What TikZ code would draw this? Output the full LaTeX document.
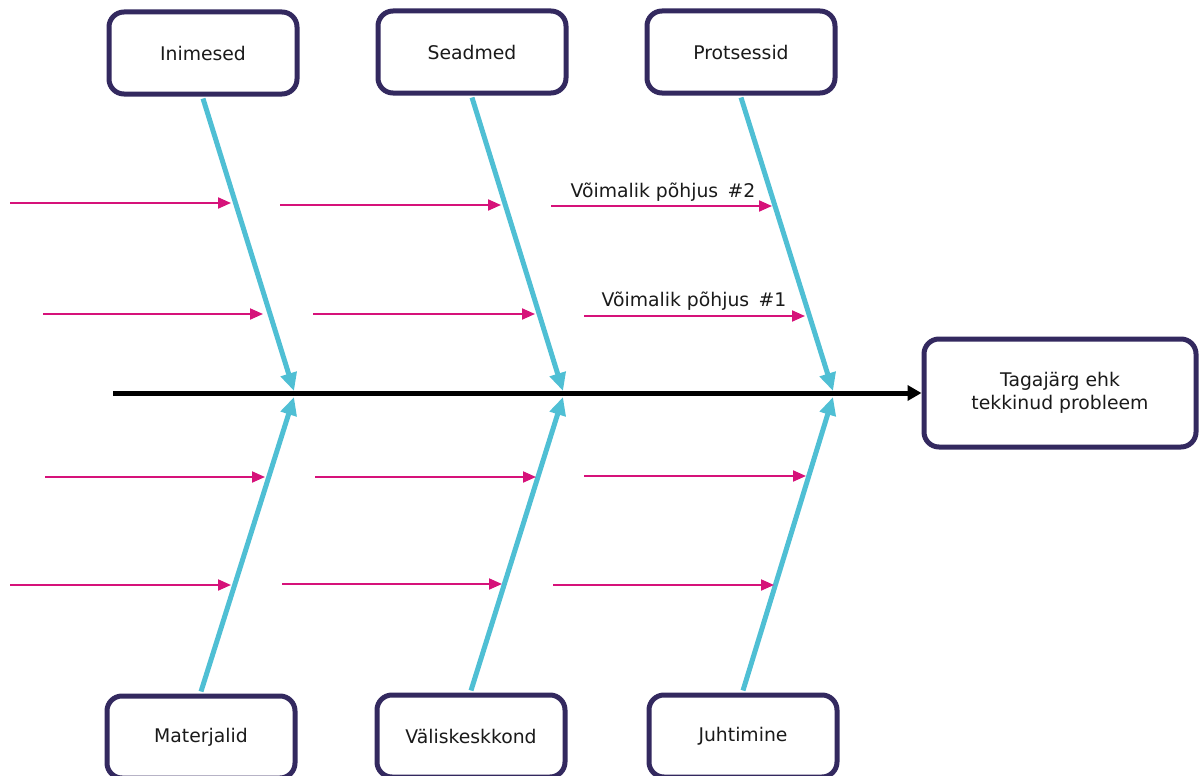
\documentclass[tikz,border=0pt]{standalone}
\usepackage{fontspec}
\setmainfont{DejaVu Sans}
\usetikzlibrary{arrows.meta}
\definecolor{boxline}{HTML}{33295F}
\definecolor{bone}{HTML}{4FBFD4}
\definecolor{cause}{HTML}{D6127A}
\definecolor{ink}{HTML}{1A1A1A}
\tikzset{
  category/.style={draw=boxline, line width=5pt, rounded corners=15pt, fill=white,
    minimum width=188pt, minimum height=82pt, inner sep=0pt, text=ink,
    font=\fontsize{18.8}{23}\selectfont},
  effect/.style={category, minimum width=272pt, minimum height=108pt, align=center},
  bonearrow/.style={draw=bone, line width=5pt, -{Triangle[length=18pt,width=16pt]}},
  spinearrow/.style={draw=black, line width=5pt, -{Triangle[length=14pt,width=15pt]}},
  causearrow/.style={draw=cause, line width=2pt, -{Triangle[length=13pt,width=11pt]}},
  causelabel/.style={text=ink, font=\fontsize{18.8}{23}\selectfont, inner sep=0pt}
}
\begin{document}
\begin{tikzpicture}[x=1pt, y=-1pt]
\useasboundingbox (0,0) rectangle (1199,776);
\clip (0,0) rectangle (1199,776);

% category boxes
\node[category] (ppl)  at (203,53)  {Inimesed};
\node[category] (eqp)  at (472,52)  {Seadmed};
\node[category] (prc)  at (741,52)  {Protsessid};
\node[category] (mat)  at (201,737) {Materjalid};
\node[category] (env)  at (471,736) {Väliskeskkond};
\node[category] (mgt)  at (743,736) {Juhtimine};
\node[effect]   (eff)  at (1060,393) {Tagajärg ehk\\tekkinud probleem};

% spine
\coordinate (tail) at (113,393);
\draw[spinearrow] (tail) -- (eff.west);

% bones meeting the spine
\coordinate (j1t) at (294,391);
\coordinate (j2t) at (563,391);
\coordinate (j3t) at (833,391);
\coordinate (j1b) at (294,397);
\coordinate (j2b) at (563,397);
\coordinate (j3b) at (833,397);
\draw[bonearrow] (ppl.south) ++(0,2) coordinate (s1t) -- (j1t);
\draw[bonearrow] (eqp.south) ++(0,2) coordinate (s2t) -- (j2t);
\draw[bonearrow] (prc.south) ++(0,2) coordinate (s3t) -- (j3t);
\draw[bonearrow] (mat.north) ++(0,-2) coordinate (s1b) -- (j1b);
\draw[bonearrow] (env.north) ++(0,-2) coordinate (s2b) -- (j2b);
\draw[bonearrow] (mgt.north) ++(0,-2) coordinate (s3b) -- (j3b);

% causes, row by row
\coordinate (a1) at (10,203);  \coordinate (b1) at (231,203);
\coordinate (a2) at (280,205); \coordinate (b2) at (501,205);
\coordinate (a3) at (551,206); \coordinate (b3) at (772,206);
\coordinate (a4) at (43,314);  \coordinate (b4) at (263,314);
\coordinate (a5) at (313,314); \coordinate (b5) at (535,314);
\coordinate (a6) at (584,316); \coordinate (b6) at (805,316);
\coordinate (a7) at (45,477);  \coordinate (b7) at (265,477);
\coordinate (a8) at (315,477); \coordinate (b8) at (536,477);
\coordinate (a9) at (584,476); \coordinate (b9) at (806,476);
\coordinate (a10) at (10,585); \coordinate (b10) at (231,585);
\coordinate (a11) at (282,584);\coordinate (b11) at (502,584);
\coordinate (a12) at (553,585);\coordinate (b12) at (774,585);
\foreach \i in {1,...,12}{
  \draw[causearrow] (a\i) -- (b\i);
}

% cause labels
\node[causelabel, anchor=base] (c2) at (663,197) {Võimalik põhjus\hspace{0.5em}\#2};
\node[causelabel, anchor=base] (c1) at (694,306) {Võimalik põhjus\hspace{0.5em}\#1};
\end{tikzpicture}
\end{document}
